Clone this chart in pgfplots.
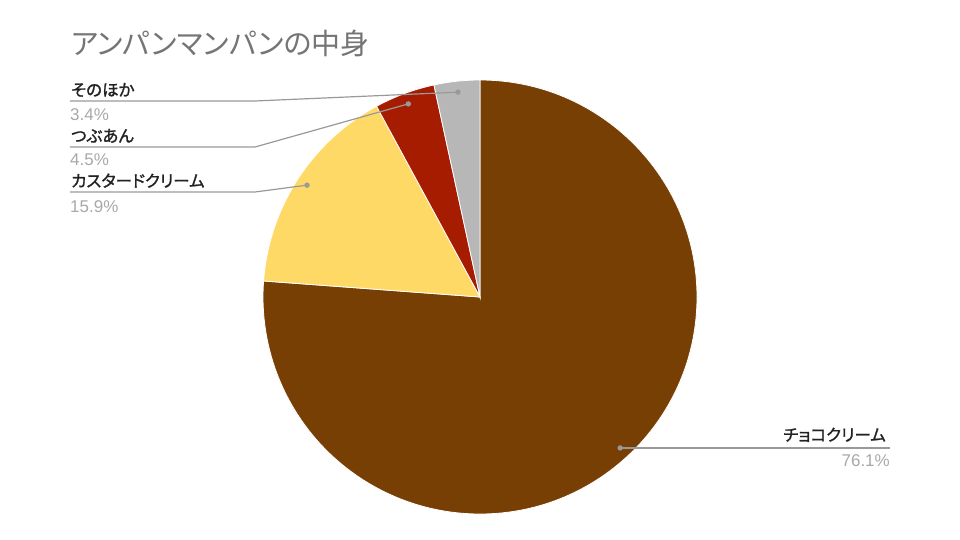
\documentclass[border=0pt]{standalone}
\usepackage{pgfplots}
\pgfplotsset{compat=1.18}
\usepackage{pgfplotstable}
\usepackage{fontspec}
\setmainfont{Noto Sans CJK JP}[RawFeature={+palt}]
\newfontfamily\labfont{Noto Sans CJK JP}[RawFeature={+palt}, FakeBold=1.3]
\newfontfamily\pctfont{Liberation Sans}
\definecolor{slice0}{HTML}{783F04}
\definecolor{slice1}{HTML}{FFD966}
\definecolor{slice2}{HTML}{A61C00}
\definecolor{slice3}{HTML}{B7B7B7}
\definecolor{leader}{HTML}{999999}
\definecolor{titlegray}{HTML}{757575}
\definecolor{pctgray}{HTML}{A8A8A8}
\definecolor{labelcol}{HTML}{222222}

% share of each filling (percent), clockwise from 12 o'clock; ly = y of the leader line
\pgfplotstableread{
pct ly
76.1 447
15.9 192
4.5 147
3.4 101
}\piedata

\begin{document}
\begin{tikzpicture}
\def\total{0}
\pgfplotsforeachungrouped \i in {0,...,3}{%
  \pgfplotstablegetelem{\i}{pct}\of\piedata
  \pgfmathsetmacro\total{\total+\pgfplotsretval}%
}
\def\cum{0}
\def\piecmds{}
\def\leadcmds{}
\pgfplotsforeachungrouped \i in {0,...,3}{%
  \pgfplotstablegetelem{\i}{pct}\of\piedata \let\v\pgfplotsretval
  \pgfplotstablegetelem{\i}{ly}\of\piedata \let\ly\pgfplotsretval
  \pgfmathsetmacro\a{90-\cum/\total*360}%
  \pgfmathsetmacro\m{90-(\cum+\v/2)/\total*360}%
  \pgfmathsetmacro\cum{\cum+\v}%
  \pgfmathsetmacro\b{90-\cum/\total*360}%
  \pgfmathsetmacro\dx{480+206*cos(\m)}%
  \pgfmathsetmacro\dy{297-206*sin(\m)}%
  \edef\piecmds{\unexpanded\expandafter{\piecmds}\noexpand\fill[slice\i,draw=white,line width=0.8pt] (axis cs:480,297) -- ++(\a:217pt) arc[start angle=\a,end angle=\b,radius=217pt] -- cycle;}%
  \ifnum\i=0
    \edef\leadcmds{\unexpanded\expandafter{\leadcmds}\noexpand\draw[leader,line width=1.2pt] (axis cs:\dx,\dy) -- (axis cs:890,\dy);\noexpand\fill[leader] (axis cs:\dx,\dy) circle[radius=2.7pt];}%
  \else
    \edef\leadcmds{\unexpanded\expandafter{\leadcmds}\noexpand\draw[leader,line width=1.2pt] (axis cs:\dx,\dy) -- (axis cs:255,\ly) -- (axis cs:70,\ly);\noexpand\fill[leader] (axis cs:\dx,\dy) circle[radius=2.7pt];}%
  \fi
}
\begin{axis}[hide axis, scale only axis, width=960pt, height=540pt,
  xmin=0, xmax=960, ymin=0, ymax=540, y dir=reverse, clip=false]
\path (axis cs:0,0) rectangle (axis cs:960,540);
\piecmds
\leadcmds
\node[anchor=base west, text=titlegray, font=\fontsize{29}{34}\selectfont, inner sep=0pt] at (axis cs:71,55) {アンパンマンパンの中身};
\tikzset{lab/.style={text=labelcol, font=\labfont\fontsize{16.5}{20}\selectfont, inner sep=0pt},
         pct/.style={text=pctgray, font=\pctfont\fontsize{17}{20}\selectfont, inner sep=0pt}}
\node[lab, anchor=base west] at (axis cs:71,96) {そのほか};
\node[pct, anchor=base west] at (axis cs:70,121) {3.4\%};
\node[lab, anchor=base west] at (axis cs:71,142) {つぶあん};
\node[pct, anchor=base west] at (axis cs:70,166) {4.5\%};
\node[lab, anchor=base west] at (axis cs:71,187) {カスタードクリーム};
\node[pct, anchor=base west] at (axis cs:70,212) {15.9\%};
\node[lab, anchor=base east] at (axis cs:886,441) {チョコクリーム};
\node[pct, anchor=base east] at (axis cs:890,466) {76.1\%};
\end{axis}
\end{tikzpicture}
\end{document}
